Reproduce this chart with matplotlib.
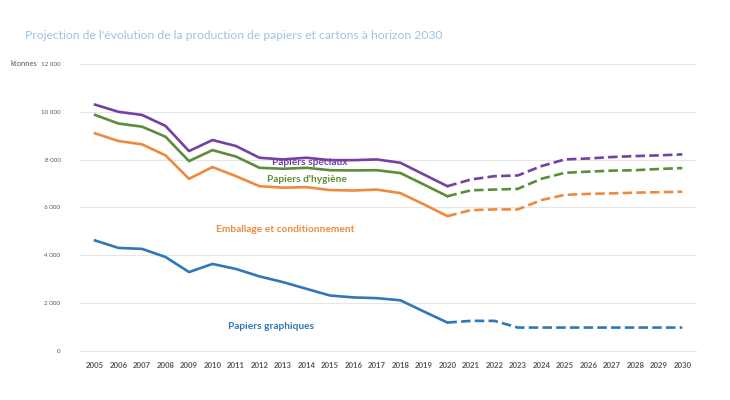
import matplotlib
matplotlib.use("Agg")
import matplotlib.pyplot as plt
import numpy as np

years = list(range(2005, 2031))
speciaux = [10300, 10000, 9870, 9410, 8360, 8820, 8570, 8080, 8010, 8080, 7980, 7980, 8010, 7870,
            7380, 6890, 7170, 7310, 7340, 7730, 8010, 8050, 8110, 8150, 8180, 8220]
hygiene = [9870, 9510, 9380, 8960, 7940, 8400, 8130, 7660, 7620, 7660, 7560, 7550, 7560, 7440,
           6960, 6470, 6720, 6750, 6780, 7200, 7450, 7500, 7540, 7560, 7610, 7650]
emballage = [9100, 8780, 8640, 8180, 7200, 7690, 7310, 6890, 6830, 6850, 6730, 6710, 6750, 6600,
             6130, 5640, 5890, 5920, 5920, 6310, 6530, 6570, 6590, 6620, 6640, 6660]
graphiques = [4620, 4310, 4270, 3930, 3300, 3640, 3430, 3120, 2880, 2600, 2320, 2240, 2210, 2120,
              1650, 1190, 1260, 1260, 980, 980, 980, 980, 980, 980, 980, 980]
names = ["Papiers spéciaux", "Papiers d'hygiène", "Emballage et conditionnement", "Papiers graphiques"]
colors = ["#7440A4", "#5A8E3A", "#EE8A3C", "#2E78B8"]
label_pos = [(2014.15, 7890), (2014.0, 7170), (2013.1, 5080), (2012.5, 1010)]
yticks = [0, 2000, 4000, 6000, 8000, 10000, 12000]
ytick_labels = ["0", "2 000", "4 000", "6 000", "8 000", "10 000", "12 000"]
split_year = 2020
title = "Projection de l'évolution de la production de papiers et cartons à horizon 2030"

plt.rcParams['font.family'] = ['Lato', 'DejaVu Sans']
fig = plt.figure(figsize=(7.3, 4.0), dpi=100)
ax = fig.add_axes([0.1096, 0.1225, 0.8434, 0.7175])

yrs = np.array(years)
k = years.index(split_year)
for vals, name, c, (lx, ly) in zip([speciaux, hygiene, emballage, graphiques], names, colors, label_pos):
    v = np.array(vals)
    ax.plot(yrs[:k + 1], v[:k + 1], color=c, lw=1.9, solid_joinstyle='round')
    ax.plot(yrs[k:], v[k:], color=c, lw=1.9, dashes=(3.6, 1.6))
    ax.text(lx, ly, name, color=c, fontsize=7.3, fontweight='bold', ha='center', va='center')

ax.set_xlim(2004.36, 2030.57)
ax.set_ylim(0, 12000)
ax.set_yticks(yticks)
ax.set_yticklabels(ytick_labels, fontsize=4.5, color='#595959')
ax.set_xticks(years)
ax.set_xticklabels([str(y) for y in years], fontsize=5.6, color='#595959', fontweight='bold')
ax.grid(axis='y', color='#E6E6E6', lw=0.8)
ax.set_axisbelow(True)
for s in ax.spines.values():
    s.set_visible(False)
ax.spines['bottom'].set_visible(True)
ax.spines['bottom'].set_color('#E6E6E6')
ax.tick_params(axis='both', length=0, pad=8)
ax.tick_params(axis='y', pad=14)

fig.text(0.0137, 0.84, "ktonnes", fontsize=5.5, color='#595959', va='center')
fig.text(0.0342, 0.912, title, fontsize=8.7, color='#9DC3E6', va='center')

fig.savefig("out.png", dpi=100, facecolor='white')
